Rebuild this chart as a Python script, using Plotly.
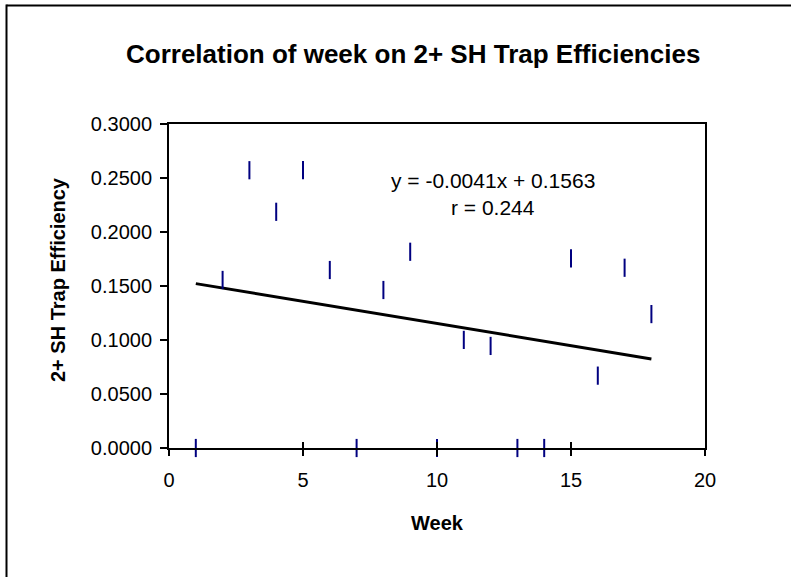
import plotly.graph_objects as go

weeks = list(range(1, 19))
efficiency = [0.0000, 0.1556, 0.2572, 0.2187, 0.2572, 0.1648, 0.0000, 0.1463, 0.1817,
              0.0000, 0.1001, 0.0945, 0.0000, 0.0000, 0.1756, 0.0670, 0.1669, 0.1240]
slope = -0.0041
intercept = 0.1563
r_value = 0.244
x_ticks = [0, 5, 10, 15, 20]
y_ticks = [0.0, 0.05, 0.10, 0.15, 0.20, 0.25, 0.30]

title_text = "Correlation of week on 2+ SH Trap Efficiencies"
x_title = "Week"
y_title = "2+ SH Trap Efficiency"

FONT = "Arial, Liberation Sans, sans-serif"

trend_x = [min(weeks), max(weeks)]
trend_y = [slope * x + intercept for x in trend_x]

fig = go.Figure()
fig.add_trace(go.Scatter(
    x=trend_x, y=trend_y, mode="lines",
    line=dict(color="black", width=3), hoverinfo="skip", showlegend=False,
))
fig.add_trace(go.Scatter(
    x=weeks, y=efficiency, mode="markers",
    marker=dict(symbol="line-ns", size=13, line=dict(color="#000080", width=2)),
    showlegend=False, cliponaxis=False,
))
# invisible trace on overlay axis to create crossing x ticks
fig.add_trace(go.Scatter(x=[0], y=[0], xaxis="x2", mode="markers",
                         marker=dict(opacity=0), hoverinfo="skip", showlegend=False))

L, R, T, B = 169, 86, 124, 129
W, H = 791, 577
pw, ph = W - L - R, H - T - B

def px_x(px):
    return (px - L) / pw

def px_y(py):
    return 1 - (py - T) / ph

fig.update_layout(
    width=W, height=H,
    margin=dict(l=L, r=R, t=T, b=B, pad=0),
    paper_bgcolor="white", plot_bgcolor="white",
    font=dict(family=FONT, color="black"),
    xaxis=dict(
        range=[0, 20], tickvals=x_ticks, ticktext=[str(v) for v in x_ticks],
        showgrid=False, zeroline=False, showline=True, linecolor="black", linewidth=2,
        mirror=True, ticks="outside", ticklen=6, tickwidth=2, tickcolor="black",
        tickfont=dict(size=20, family=FONT), ticklabelstandoff=7,
    ),
    xaxis2=dict(
        range=[0, 20], tickvals=x_ticks, overlaying="x", side="bottom",
        showgrid=False, zeroline=False, showline=False, showticklabels=False,
        ticks="inside", ticklen=6, tickwidth=2, tickcolor="black",
    ),
    yaxis=dict(
        range=[0, 0.3], tickvals=y_ticks, ticktext=[f"{v:.4f}" for v in y_ticks],
        showgrid=False, zeroline=False, showline=True, linecolor="black", linewidth=2,
        mirror=True, ticks="outside", ticklen=7, tickwidth=2, tickcolor="black",
        tickfont=dict(size=20, family=FONT), ticklabelstandoff=4,
    ),
    annotations=[
        dict(text="<b>" + title_text + "</b>", xref="paper", yref="paper",
             x=px_x(413), y=px_y(54), xanchor="center", yanchor="middle",
             showarrow=False, font=dict(size=26, family=FONT)),
        dict(text="<b>" + x_title + "</b>", xref="paper", yref="paper",
             x=px_x(437), y=px_y(523), xanchor="center", yanchor="middle",
             showarrow=False, font=dict(size=20, family=FONT)),
        dict(text="<b>" + y_title + "</b>", xref="paper", yref="paper",
             x=px_x(58), y=px_y(280), xanchor="center", yanchor="middle", textangle=-90,
             showarrow=False, font=dict(size=20, family=FONT)),
        dict(text=f"y = {slope:.4f}x + {intercept:.4f}", xref="paper", yref="paper",
             x=px_x(492.5), y=px_y(180.5), xanchor="center", yanchor="middle",
             showarrow=False, font=dict(size=21, family=FONT)),
        dict(text=f"r = {r_value:.3f}", xref="paper", yref="paper",
             x=px_x(492.5), y=px_y(207.5), xanchor="center", yanchor="middle",
             showarrow=False, font=dict(size=21, family=FONT)),
    ],
    shapes=[
        dict(type="line", xref="paper", yref="paper",
             x0=px_x(6.5), x1=px_x(W + 10), y0=px_y(5.5), y1=px_y(5.5),
             line=dict(color="black", width=2)),
        dict(type="line", xref="paper", yref="paper",
             x0=px_x(6.5), x1=px_x(6.5), y0=px_y(4.5), y1=px_y(H + 10),
             line=dict(color="black", width=2)),
    ],
)

fig.write_html("out.html", config={"displayModeBar": False},
               post_script="document.body.style.margin='0';document.body.style.overflow='hidden';")
